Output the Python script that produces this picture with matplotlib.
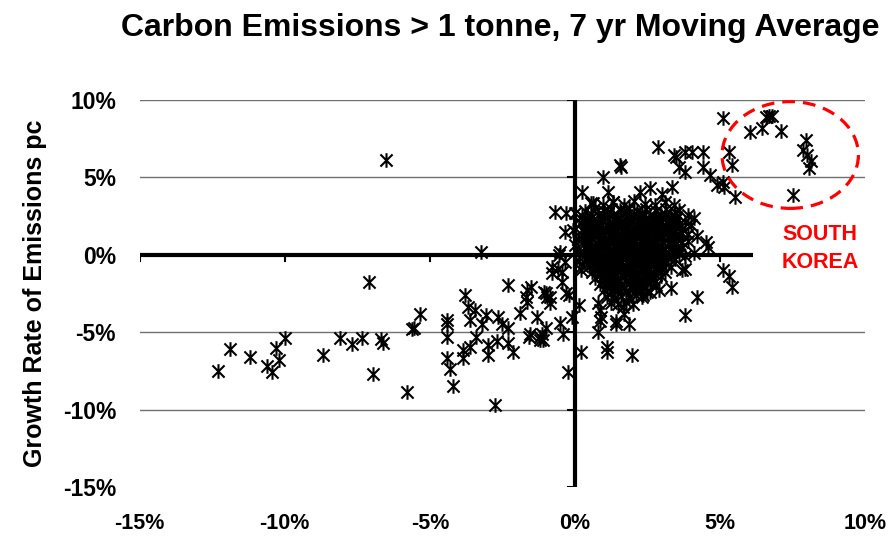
import matplotlib
matplotlib.use("Agg")
import matplotlib.pyplot as plt
from matplotlib.path import Path
from matplotlib.patches import Ellipse, Rectangle

plt.rcParams["font.family"] = ["Liberation Sans", "DejaVu Sans"]
plt.rcParams["font.weight"] = "bold"

# datos (% crecimiento PIB pc, % crecimiento emisiones pc)
cola_izq = [(-12.3, -7.5), (-11.9, -6.1), (-11.2, -6.6), (-10.6, -7.2), (-10.45, -7.6),
            (-10.2, -6.8), (-10.3, -6.0), (-10.0, -5.35), (-8.7, -6.5), (-8.1, -5.35),
            (-7.7, -5.75), (-7.35, -5.4), (-7.1, -1.75), (-6.95, -7.7), (-6.7, -5.45),
            (-6.6, -5.7), (-6.5, 6.1), (-5.8, -8.85), (-5.6, -4.8), (-5.55, -4.7),
            (-5.35, -3.85)]
medio_izq = [(-4.4, -4.2), (-4.4, -4.5), (-4.4, -5.3), (-4.4, -6.65), (-4.3, -7.4),
             (-4.2, -8.5), (-3.85, -6.15), (-3.85, -6.65), (-3.8, -2.6), (-3.7, -3.35),
             (-3.6, -4.2), (-3.6, -5.95), (-3.45, -3.55), (-3.4, -5.3), (-3.25, 0.2),
             (-3.2, -4.5), (-3.05, -3.9), (-3.0, -5.8), (-3.0, -6.45), (-2.75, -9.7),
             (-2.7, -5.6), (-2.65, -4.05), (-2.5, -4.5), (-2.3, -1.95), (-2.3, -4.7),
             (-2.3, -5.7), (-2.15, -6.3), (-1.9, -3.75), (-1.7, -2.75), (-1.65, -2.25),
             (-1.65, -3.05), (-1.6, -5.3), (-1.55, -5.15), (-1.5, -2.05), (-1.3, -4.05),
             (-1.2, -5.3), (-1.2, -5.5), (-1.15, -5.15), (-1.1, -5.5), (-1.05, -2.4),
             (-1.0, -4.7), (-1.0, -2.45), (-0.95, -2.7), (-0.85, -3.1), (-0.85, -2.7)]
cerca_cero = [(-0.8, -0.8), (-0.8, -1.15), (-0.7, 2.75), (-0.6, -0.95), (-0.55, 0.0),
              (-0.5, 0.15), (-0.5, -4.4), (-0.45, -1.1), (-0.45, -1.75), (-0.4, -5.15),
              (-0.35, -0.45), (-0.35, 1.5), (-0.3, 2.7), (-0.3, -2.45), (-0.25, -7.6),
              (-0.2, -2.6), (-0.1, -4.05), (-0.05, 1.6), (0.0, 2.7), (0.0, 0.65),
              (0.15, -3.25), (0.2, -6.25), (0.25, 4.05), (0.55, 3.35), (0.8, -3.1),
              (0.85, -3.55), (0.9, -4.05), (0.85, -4.3), (0.8, -5.0), (0.95, 5.0),
              (1.1, -5.95), (1.1, -6.3), (1.15, 4.05), (1.3, 3.4), (1.4, -4.5),
              (1.4, -4.3), (1.55, 5.8), (1.6, 5.65), (1.65, -3.4), (1.7, -3.85),
              (1.85, -4.5), (1.95, -6.45), (2.25, 4.05), (2.6, 4.3), (2.35, -2.6),
              (2.6, -2.4), (2.85, 6.95), (2.9, -2.3), (3.0, 3.9), (3.3, -2.15),
              (3.35, 4.4), (0.1, 0.3), (0.15, -0.4), (0.2, -1.0), (0.1, 1.0),
              (0.25, -0.7)]
nucleo = [(0.62, 3.35), (0.95, 3.2), (1.3, 3.4), (1.7, 3.25), (2.05, 3.45), (2.4, 3.3),
          (2.75, 3.2), (3.1, 3.4),
          (0.35, 2.85), (0.7, 3.0), (1.0, 2.8), (1.25, 2.95), (1.55, 2.9), (1.85, 3.05),
          (2.15, 2.85), (2.45, 2.95), (2.8, 2.8), (3.15, 2.95), (3.45, 2.75),
          (0.25, 2.5), (0.55, 2.4), (0.8, 2.6), (1.05, 2.45), (1.3, 2.55), (1.55, 2.4),
          (1.8, 2.6), (2.05, 2.5), (2.3, 2.45), (2.6, 2.6), (2.85, 2.4), (3.15, 2.55),
          (3.5, 2.45),
          (0.2, 2.05), (0.45, 2.15), (0.7, 2.0), (0.95, 2.2), (1.2, 2.05), (1.45, 2.15),
          (1.7, 2.0), (1.95, 2.2), (2.2, 2.1), (2.45, 2.0), (2.7, 2.15), (2.95, 2.05),
          (3.25, 2.2), (3.6, 2.0),
          (0.3, 1.7), (0.55, 1.6), (0.8, 1.75), (1.05, 1.65), (1.3, 1.8), (1.55, 1.7),
          (1.8, 1.6), (2.05, 1.75), (2.3, 1.65), (2.55, 1.8), (2.8, 1.7), (3.05, 1.6),
          (3.35, 1.75), (3.7, 1.65),
          (0.25, 1.3), (0.5, 1.2), (0.75, 1.35), (1.0, 1.25), (1.25, 1.4), (1.5, 1.3),
          (1.75, 1.2), (2.0, 1.35), (2.25, 1.25), (2.5, 1.4), (2.75, 1.3), (3.0, 1.2),
          (3.3, 1.35), (3.6, 1.25), (3.9, 1.35),
          (0.3, 0.9), (0.55, 0.8), (0.8, 0.95), (1.05, 0.85), (1.3, 1.0), (1.55, 0.9),
          (1.8, 0.8), (2.05, 0.95), (2.3, 0.85), (2.55, 1.0), (2.8, 0.9), (3.05, 0.8),
          (3.35, 0.95), (3.7, 0.85),
          (0.35, 0.5), (0.6, 0.4), (0.85, 0.55), (1.1, 0.45), (1.35, 0.6), (1.6, 0.5),
          (1.85, 0.4), (2.1, 0.55), (2.35, 0.45), (2.6, 0.6), (2.85, 0.5), (3.1, 0.4),
          (3.4, 0.55), (3.7, 0.45),
          (0.3, 0.1), (0.55, 0.0), (0.8, 0.15), (1.05, 0.05), (1.3, 0.2), (1.55, 0.1),
          (1.8, 0.0), (2.05, 0.15), (2.3, 0.05), (2.55, 0.2), (2.8, 0.1), (3.05, 0.0),
          (3.35, 0.15), (3.6, 0.05),
          (0.4, -0.3), (0.65, -0.4), (0.9, -0.25), (1.15, -0.35), (1.4, -0.2), (1.65, -0.3),
          (1.9, -0.4), (2.15, -0.25), (2.4, -0.35), (2.65, -0.2), (2.9, -0.3), (3.15, -0.4),
          (3.45, -0.25),
          (0.5, -0.7), (0.75, -0.8), (1.0, -0.65), (1.25, -0.75), (1.5, -0.6), (1.75, -0.7),
          (2.0, -0.8), (2.25, -0.65), (2.5, -0.75), (2.75, -0.6), (3.0, -0.7), (3.3, -0.8),
          (0.6, -1.1), (0.85, -1.2), (1.1, -1.05), (1.35, -1.15), (1.6, -1.0), (1.85, -1.1),
          (2.1, -1.2), (2.35, -1.05), (2.6, -1.15), (2.85, -1.0), (3.1, -1.1),
          (0.7, -1.5), (0.95, -1.6), (1.2, -1.45), (1.45, -1.55), (1.7, -1.4), (1.95, -1.5),
          (2.2, -1.6), (2.45, -1.45), (2.7, -1.55), (2.95, -1.4),
          (0.85, -1.9), (1.1, -2.0), (1.35, -1.85), (1.6, -1.95), (1.85, -1.8), (2.1, -1.9),
          (2.35, -2.0), (2.6, -1.85), (2.8, -1.95),
          (1.0, -2.3), (1.25, -2.4), (1.5, -2.25), (1.75, -2.35), (2.0, -2.2), (2.25, -2.3),
          (2.5, -2.4),
          (1.1, -2.7), (1.35, -2.8), (1.6, -2.65), (1.85, -2.75), (2.1, -2.6), (2.3, -2.7),
          (1.25, -3.1), (1.5, -3.2), (1.75, -3.05), (2.0, -3.15)]
nucleo_denso = [(0.4, 2.3), (0.9, 2.35), (1.4, 2.25), (1.9, 2.35), (2.4, 2.3), (2.9, 2.25),
                (0.6, 1.9), (1.1, 1.95), (1.6, 1.85), (2.1, 1.9), (2.6, 1.95), (3.1, 1.85),
                (0.4, 1.5), (0.9, 1.55), (1.4, 1.45), (1.9, 1.5), (2.4, 1.55), (2.9, 1.45),
                (3.45, 1.5),
                (0.6, 1.1), (1.15, 1.05), (1.65, 1.1), (2.15, 1.15), (2.65, 1.05), (3.2, 1.1),
                (0.45, 0.7), (0.95, 0.75), (1.45, 0.65), (1.95, 0.7), (2.45, 0.75),
                (2.95, 0.65), (3.5, 0.7),
                (0.5, 0.3), (1.0, 0.25), (1.5, 0.35), (2.0, 0.3), (2.5, 0.25), (3.0, 0.3),
                (3.5, 0.3),
                (0.45, -0.1), (0.95, -0.15), (1.45, -0.05), (1.95, -0.1), (2.45, -0.15),
                (2.95, -0.05), (3.3, -0.1),
                (0.6, -0.5), (1.1, -0.55), (1.6, -0.45), (2.1, -0.5), (2.6, -0.55), (3.1, -0.5),
                (0.75, -0.9), (1.25, -0.95), (1.75, -0.85), (2.25, -0.9), (2.75, -0.95),
                (0.85, -1.3), (1.35, -1.35), (1.85, -1.25), (2.35, -1.3), (2.8, -1.3),
                (1.0, -1.7), (1.5, -1.75), (2.0, -1.65), (2.5, -1.7),
                (1.2, -2.1), (1.7, -2.15), (2.2, -2.05)]
nucleo_centro = [(0.55, 2.65), (1.15, 2.7), (1.75, 2.8), (2.3, 2.7), (2.95, 2.6),
                 (0.35, 2.25), (0.8, 2.2), (1.3, 2.3), (1.75, 2.3), (2.25, 2.35), (2.75, 2.35),
                 (3.3, 2.4),
                 (0.45, 1.85), (0.85, 1.9), (1.35, 2.0), (1.85, 1.95), (2.35, 1.9), (2.85, 1.95),
                 (3.4, 2.0),
                 (0.3, 1.45), (0.7, 1.55), (1.15, 1.5), (1.65, 1.55), (2.15, 1.5), (2.65, 1.6),
                 (3.2, 1.5),
                 (0.45, 1.05), (0.9, 1.1), (1.4, 1.15), (1.9, 1.05), (2.4, 1.1), (2.9, 1.1),
                 (3.5, 1.1),
                 (0.4, 0.65), (0.75, 0.7), (1.2, 0.75), (1.7, 0.7), (2.2, 0.65), (2.7, 0.75),
                 (3.25, 0.7),
                 (0.45, 0.25), (0.75, 0.35), (1.2, 0.3), (1.7, 0.25), (2.2, 0.35), (2.7, 0.3),
                 (3.25, 0.35),
                 (0.55, -0.15), (0.8, -0.05), (1.3, -0.1), (1.75, -0.15), (2.25, -0.05),
                 (2.75, -0.1), (3.2, -0.15),
                 (0.65, -0.55), (0.9, -0.45), (1.4, -0.5), (1.85, -0.55), (2.35, -0.45),
                 (2.85, -0.5),
                 (0.8, -0.95), (1.0, -0.85), (1.5, -0.9), (2.0, -0.95), (2.5, -0.85), (3.0, -0.9),
                 (0.95, -1.35), (1.1, -1.3), (1.6, -1.3), (2.1, -1.35), (2.6, -1.3),
                 (1.15, -1.75), (1.75, -1.7), (2.25, -1.75),
                 (1.4, -2.1), (1.95, -2.05)]
derecha = [(3.4, 3.2), (3.6, 2.9), (3.9, 2.6), (4.1, 2.4), (3.5, 2.3), (3.8, 2.1),
           (4.0, 1.9), (3.4, 1.6), (3.7, 1.4), (4.2, 1.2), (4.5, 0.8), (4.6, 0.5),
           (3.9, 0.9), (4.1, 0.1), (3.8, -0.1), (3.7, -1.0), (3.8, -0.95), (4.2, -2.7),
           (3.8, -3.9), (5.1, -1.0), (5.3, -1.4), (5.4, -2.1),
           (3.4, 6.45), (3.5, 6.3), (3.8, 6.65), (4.05, 6.65), (4.4, 6.65), (3.6, 5.7),
           (3.8, 5.35), (4.4, 5.7), (4.65, 5.15), (4.9, 4.5), (5.1, 4.7), (5.15, 4.4),
           (5.3, 6.65), (5.4, 5.8), (5.5, 3.75)]
corea = [(5.1, 8.85), (6.05, 7.95), (6.45, 8.2), (6.6, 8.9), (6.8, 8.95), (6.7, 9.0),
         (7.1, 8.0), (7.95, 7.4), (7.85, 6.8), (8.0, 6.45), (8.15, 6.05), (8.05, 5.6),
         (7.5, 3.85)]

xt = [-15, -10, -5, 0, 5, 10]
yt = [-15, -10, -5, 0, 5, 10]

# marcador estrella de Excel: X con barra vertical
estrella = Path([(-1, -1), (1, 1), (-1, 1), (1, -1), (0, -1.2), (0, 1.2)],
                [Path.MOVETO, Path.LINETO, Path.MOVETO, Path.LINETO,
                 Path.MOVETO, Path.LINETO])

fig = plt.figure(figsize=(8.9, 5.38), dpi=100)
ax = fig.add_axes([0.157, 0.095, 0.815, 0.719])
ax.set_xlim(-15, 10)
ax.set_ylim(-15, 10)
for s in ax.spines.values():
    s.set_visible(False)
ax.tick_params(axis="x", length=0, labelsize=15.5, pad=19)
ax.tick_params(axis="y", length=0, labelsize=16.5, pad=17)
ax.set_xticks(xt)
ax.set_xticklabels([f"{v}%" for v in xt], fontweight="bold")
ax.set_yticks(yt)
ax.set_yticklabels([f"{v}%" for v in yt], fontweight="bold")

for v in [-10, -5, 5, 10]:
    ax.plot([-15, 10], [v, v], color="#707070", lw=1.0, zorder=1)

ax.plot([-15, 10], [0, 0], color="black", lw=3, zorder=2, solid_capstyle="butt")
ax.plot([0, 0], [-15, 10], color="black", lw=3, zorder=2, solid_capstyle="butt")
for v in xt:
    ax.plot([v, v], [0, -0.4], color="black", lw=1.5, zorder=2)
for v in yt:
    ax.plot([0, -0.25], [v, v], color="black", lw=1.5, zorder=2)

for grupo in (cola_izq, medio_izq, cerca_cero, nucleo, nucleo_denso, nucleo_centro,
              derecha, corea):
    xs = [p[0] for p in grupo]
    ys = [p[1] for p in grupo]
    ax.plot(xs, ys, ls="none", marker=estrella, ms=10.5, mew=1.5,
            color="black", zorder=3)

ax.add_patch(Rectangle((6.15, -0.9), 4.2, 2.0, facecolor="white",
                       edgecolor="none", zorder=4, clip_on=False))
ax.add_patch(Ellipse((7.42, 6.45), 4.7, 6.9, fill=False, edgecolor="red",
                     lw=2.3, ls=(0, (4, 2.5)), zorder=5))
ax.text(8.45, 0.42, "SOUTH\nKOREA", color="red", fontsize=15.5,
        fontweight="bold", ha="center", va="center", linespacing=1.45, zorder=6)

ax.set_ylabel("Growth Rate of Emissions pc", fontsize=18, fontweight="bold",
              labelpad=11)
fig.suptitle("Carbon Emissions > 1 tonne, 7 yr Moving Average", x=0.562, y=0.975,
             fontsize=23, fontweight="bold")

fig.savefig("out.png", dpi=100)
